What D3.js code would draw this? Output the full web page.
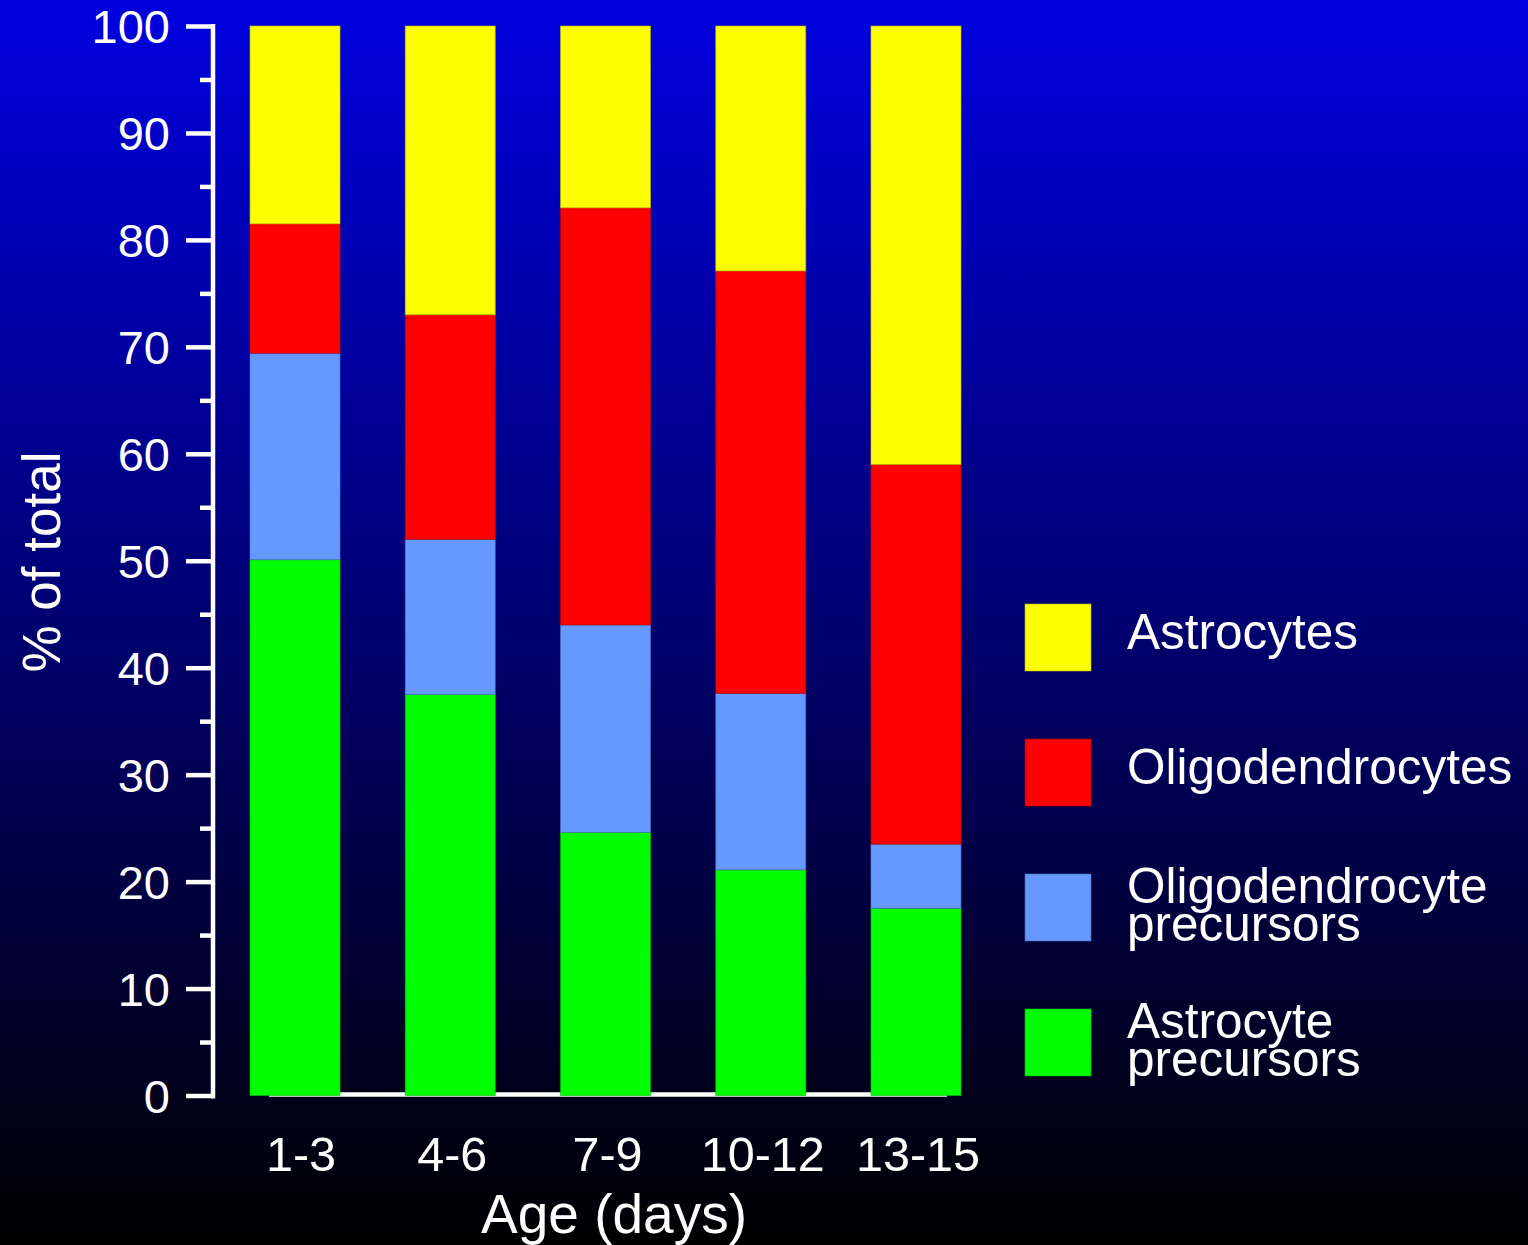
<!DOCTYPE html>
<html>
<head>
<meta charset="utf-8">
<script src="https://cdn.jsdelivr.net/npm/d3@7"></script>
<style>
  html, body { margin: 0; padding: 0; background: #000; }
  svg { display: block; }
  text { font-family: "Liberation Sans", Arial, Helvetica, sans-serif; fill: #fff; }
</style>
</head>
<body>
<svg id="chart" width="1528" height="1245"></svg>
<script>
// Age groups (days)
const categories = ["1-3", "4-6", "7-9", "10-12", "13-15"];

// Percent of total cells per age group, bottom to top of each stack
const astrocytePrecursors      = [50.1, 37.5, 24.6, 21.1, 17.5];
const oligodendrocytePrecursors = [19.3, 14.5, 19.4, 16.5, 6.0];
const oligodendrocytes         = [12.1, 21.0, 39.0, 39.5, 35.5];
const astrocytes               = [18.5, 27.0, 17.0, 22.9, 41.0];

const seriesKeys   = ["ap", "op", "ol", "as"];
const seriesLabels = [
  ["Astrocyte", "precursors"],
  ["Oligodendrocyte", "precursors"],
  ["Oligodendrocytes"],
  ["Astrocytes"]
];
const seriesColors = ["#00ff00", "#6699ff", "#ff0000", "#ffff00"];

const yMajorTicks = [0, 10, 20, 30, 40, 50, 60, 70, 80, 90, 100];
const yMinorTicks = [5, 15, 25, 35, 45, 55, 65, 75, 85, 95];

const rows = categories.map((c, i) => ({
  cat: c,
  ap: astrocytePrecursors[i],
  op: oligodendrocytePrecursors[i],
  ol: oligodendrocytes[i],
  as: astrocytes[i]
}));

const svg = d3.select("#chart");
const W = 1528, H = 1245;

// Background: blue at the top fading to black at the bottom
const defs = svg.append("defs");
const grad = defs.append("linearGradient")
  .attr("id", "bg").attr("x1", 0).attr("y1", 0).attr("x2", 0).attr("y2", 1);
grad.append("stop").attr("offset", "0%").attr("stop-color", "#0000e0");
grad.append("stop").attr("offset", "100%").attr("stop-color", "#000000");
svg.append("rect").attr("width", W).attr("height", H).attr("fill", "url(#bg)");

// Scales
const x = d3.scaleBand()
  .domain(categories)
  .range([250, 961])
  .paddingInner(0.42)
  .paddingOuter(0);

const y = d3.scaleLinear().domain([0, 100]).range([1095.5, 26]);

const axisX = 213;

// Baseline under the bars
svg.append("line")
  .attr("x1", 269).attr("x2", 947)
  .attr("y1", y(0) - 1).attr("y2", y(0) - 1)
  .attr("stroke", "#fff").attr("stroke-width", 4.5);

// Stacked bars
const stacked = d3.stack().keys(seriesKeys)(rows);
const layers = svg.append("g").selectAll("g")
  .data(stacked)
  .join("g")
  .attr("fill", (d, i) => seriesColors[i])
  .attr("stroke", (d, i) => d3.color(seriesColors[i]).darker(0.9))
  .attr("stroke-width", 1)
  .attr("stroke-opacity", 0.6);

layers.selectAll("rect")
  .data(d => d)
  .join("rect")
  .attr("x", d => x(d.data.cat))
  .attr("width", x.bandwidth())
  .attr("y", d => y(d[1]))
  .attr("height", d => y(d[0]) - y(d[1]));

// Y axis: minor ticks
const minorAxis = d3.axisLeft(y).tickValues(yMinorTicks).tickSize(13).tickFormat("");
const gMinor = svg.append("g").attr("transform", `translate(${axisX},0)`).call(minorAxis);
gMinor.select(".domain").remove();
gMinor.selectAll(".tick line").attr("stroke", "#fff").attr("stroke-width", 4.5);

// Y axis: major ticks with labels
const majorAxis = d3.axisLeft(y).tickValues(yMajorTicks).tickSize(27).tickPadding(16);
const gMajor = svg.append("g").attr("transform", `translate(${axisX},0)`).call(majorAxis);
gMajor.select(".domain").remove();
gMajor.selectAll(".tick line").attr("stroke", "#fff").attr("stroke-width", 4.5);
gMajor.selectAll(".tick text")
  .attr("fill", "#fff")
  .style("font-size", "47px")
  .style("font-family", "'Liberation Sans', Arial, sans-serif")
  .attr("dy", "0.36em");

// Y axis spine
svg.append("line")
  .attr("x1", axisX).attr("x2", axisX)
  .attr("y1", y(0) + 3).attr("y2", y(100) - 2)
  .attr("stroke", "#fff").attr("stroke-width", 4.5);

// X category labels
svg.append("g").selectAll("text")
  .data(categories)
  .join("text")
  .attr("x", (d, i) => x(d) + x.bandwidth() / 2 + (i === 0 ? 6 : 2))
  .attr("y", 1171)
  .attr("text-anchor", "middle")
  .style("font-size", "48.5px")
  .text(d => d);

// Axis titles
svg.append("text")
  .attr("x", 614).attr("y", 1233)
  .attr("text-anchor", "middle")
  .style("font-size", "55px")
  .text("Age (days)");

svg.append("text")
  .attr("transform", "translate(60,562) rotate(-90)")
  .attr("text-anchor", "middle")
  .style("font-size", "53px")
  .text("% of total");

// Legend (top entry is the top of the stack)
const legendOrder = [3, 2, 1, 0];
const legend = svg.append("g").attr("transform", "translate(1025,604)");
const items = legend.selectAll("g")
  .data(legendOrder)
  .join("g")
  .attr("transform", (d, i) => `translate(0,${i * 135})`);

items.append("rect")
  .attr("width", 66).attr("height", 67)
  .attr("fill", d => seriesColors[d])
  .attr("stroke", d => d3.color(seriesColors[d]).darker(0.9))
  .attr("stroke-opacity", 0.6)
  .attr("stroke-width", 1);

items.each(function(d) {
  const lines = seriesLabels[d];
  const t = d3.select(this).append("text")
    .attr("x", 102)
    .style("font-size", "49.5px");
  lines.forEach((ln, j) => {
    t.append("tspan")
      .attr("x", 102)
      .attr("y", 45 - (lines.length - 1) * 16.5 + j * 38)
      .text(ln);
  });
});
</script>
</body>
</html>
